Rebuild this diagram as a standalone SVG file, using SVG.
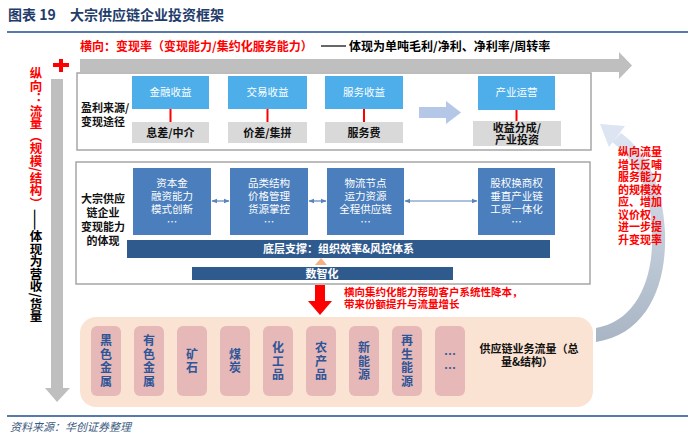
<svg xmlns="http://www.w3.org/2000/svg" width="700" height="440" viewBox="0 0 700 440">
<defs>
<style>
text{font-family:"Noto Sans CJK SC","Liberation Sans",sans-serif}
.title{font-size:14px;font-weight:bold;fill:#1f3d6b}
.red{fill:#ff0000;font-weight:bold}
.blk{fill:#000;font-weight:bold}
.lbl{font-size:11px;font-weight:bold;fill:#111}
.lb{fill:#4daeea}
.gb{fill:#d9d9d9}
.db{fill:#4a7ebd}
.bar{fill:#2f5a8d}
.wt{fill:#fff;font-size:10.5px;text-anchor:middle}
.wtb{fill:#fff;font-size:11px;font-weight:bold;text-anchor:middle}
.gt{fill:#111;font-size:11px;font-weight:bold;text-anchor:middle}
.pk{fill:#e6b9b8}
.pt{fill:#2f5597;font-size:12px;font-weight:bold;text-anchor:middle}
.frame{fill:#fff;stroke:#a6a6a6;stroke-width:1.5}
.rl{stroke:#ff0000;stroke-width:2}
.dbl{stroke:#5b84bd;stroke-width:1.2;marker-start:url(#ah);marker-end:url(#ah)}
</style>
<marker id="ah" viewBox="0 0 10 10" refX="9" refY="5" markerWidth="5" markerHeight="5" orient="auto-start-reverse"><path d="M0,1 L10,5 L0,9 z" fill="#5b84bd"/></marker>
<linearGradient id="cg" x1="0" y1="0" x2="0" y2="1"><stop offset="0" stop-color="#dce5f1"/><stop offset="1" stop-color="#a9b5c4"/></linearGradient>
</defs>
<rect width="700" height="440" fill="#fff"/>
<text class="title" x="8" y="20">图表 19</text>
<text class="title" x="70" y="20">大宗供应链企业投资框架</text>
<line x1="7" y1="32" x2="688" y2="32" stroke="#1f4e8c" stroke-width="1.5"/>

<g id="horizontal-axis">
<text x="80" y="51" class="red" font-size="12">横向：变现率（变现能力/集约化服务能力）</text>
<line x1="321" y1="46" x2="346" y2="46" stroke="#000" stroke-width="1.2"/>
<text x="349" y="51" class="blk" font-size="12">体现为单吨毛利/净利、净利率/周转率</text>
<polygon points="80,59 619,59 619,52 632,65.5 619,79 619,72 80,72" fill="#bfbfbf"/>
</g>

<g id="plus"><rect x="53" y="63" width="16" height="4" fill="#ff0000"/><rect x="59" y="59" width="4" height="13" fill="#ff0000"/></g>

<g id="vertical-axis">
<polygon points="51,79 63,79 63,388 70,388 57,402 45,388 51,388" fill="#bfbfbf"/>
<text x="36" y="67" style="writing-mode:vertical-rl" font-size="12.5"><tspan class="red">纵向：流量（规模/结构）</tspan><tspan class="blk">——体现为营收/货量</tspan></text>
</g>

<g id="row1">
<rect class="frame" x="77" y="73" width="514" height="77"/>
<text class="lbl" x="81" y="112">盈利来源/</text>
<text class="lbl" x="81" y="126">变现途径</text>
</g>
<g id="n-finance"><rect class="lb" x="132" y="76" width="77" height="33"/><text class="wt" x="170.5" y="96">金融收益</text></g>
<g id="n-trade"><rect class="lb" x="228" y="76" width="79" height="33"/><text class="wt" x="267.5" y="96">交易收益</text></g>
<g id="n-service"><rect class="lb" x="325" y="76" width="78" height="33"/><text class="wt" x="364" y="96">服务收益</text></g>
<g id="n-industry"><rect class="lb" x="478" y="76" width="77" height="34"/><text class="wt" x="516.5" y="96">产业运营</text></g>
<g id="n-spread"><rect class="gb" x="132" y="122" width="77" height="21"/><text class="gt" x="170.5" y="136.5">息差/中介</text></g>
<g id="n-price"><rect class="gb" x="228" y="122" width="79" height="21"/><text class="gt" x="267.5" y="136.5">价差/集拼</text></g>
<g id="n-fee"><rect class="gb" x="325" y="122" width="78" height="21"/><text class="gt" x="364" y="136.5">服务费</text></g>
<g id="n-share"><rect class="gb" x="473" y="121" width="88" height="25"/><text class="gt" x="517" y="132">收益分成/</text><text class="gt" x="517" y="144">产业投资</text></g>

<g id="row2">
<rect class="frame" x="76" y="162" width="514" height="122"/>
<text class="lbl" x="103" y="203" text-anchor="middle">大宗供应</text>
<text class="lbl" x="103" y="217" text-anchor="middle">链企业</text>
<text class="lbl" x="103" y="231" text-anchor="middle">变现能力</text>
<text class="lbl" x="103" y="245" text-anchor="middle">的体现</text>
</g>
<g id="n-capital"><rect class="db" x="133" y="168" width="78" height="67"/><text class="wt" x="172" y="187">资本金</text><text class="wt" x="172" y="200">融资能力</text><text class="wt" x="172" y="213">模式创新</text><text class="wt" x="172" y="226">…</text></g>
<g id="n-category"><rect class="db" x="230" y="168" width="78" height="67"/><text class="wt" x="269" y="187">品类结构</text><text class="wt" x="269" y="200">价格管理</text><text class="wt" x="269" y="213">货源掌控</text><text class="wt" x="269" y="226">…</text></g>
<g id="n-logistics"><rect class="db" x="327" y="168" width="77" height="67"/><text class="wt" x="365.5" y="187">物流节点</text><text class="wt" x="365.5" y="200">运力资源</text><text class="wt" x="365.5" y="213">全程供应链</text><text class="wt" x="365.5" y="226">…</text></g>
<g id="n-equity"><rect class="db" x="478" y="168" width="77" height="67"/><text class="wt" x="516.5" y="187">股权换商权</text><text class="wt" x="516.5" y="200">垂直产业链</text><text class="wt" x="516.5" y="213">工贸一体化</text><text class="wt" x="516.5" y="226">…</text></g>
<g id="n-base"><rect class="bar" x="127" y="240" width="423" height="18"/><text class="wtb" x="338.5" y="253">底层支撑：组织效率&amp;风控体系</text></g>
<g id="n-digital"><rect class="bar" x="192" y="267" width="261" height="13"/><text class="wtb" x="322" y="278">数智化</text></g>

<g id="n-flow">
<rect x="80" y="317" width="513" height="90" rx="16" fill="#fbe3d3"/>
<text class="lbl" x="529" y="353" text-anchor="middle" font-size="11.5">供应链业务流量（总</text>
<text class="lbl" x="527" y="366" text-anchor="middle" font-size="11.5">量&amp;结构）</text>
</g>
<g id="n-ferrous"><rect class="pk" x="91" y="326" width="30" height="70" rx="6"/><text class="pt"><tspan x="106" y="345">黑</tspan><tspan x="106" y="358.5">色</tspan><tspan x="106" y="372">金</tspan><tspan x="106" y="385.5">属</tspan></text></g>
<g id="n-nonferrous"><rect class="pk" x="134" y="326" width="30" height="70" rx="6"/><text class="pt"><tspan x="149" y="345">有</tspan><tspan x="149" y="358.5">色</tspan><tspan x="149" y="372">金</tspan><tspan x="149" y="385.5">属</tspan></text></g>
<g id="n-ore"><rect class="pk" x="177" y="326" width="30" height="70" rx="6"/><text class="pt"><tspan x="192" y="358.5">矿</tspan><tspan x="192" y="372">石</tspan></text></g>
<g id="n-coal"><rect class="pk" x="220" y="326" width="30" height="70" rx="6"/><text class="pt"><tspan x="235" y="358.5">煤</tspan><tspan x="235" y="372">炭</tspan></text></g>
<g id="n-chem"><rect class="pk" x="263" y="326" width="30" height="70" rx="6"/><text class="pt"><tspan x="278" y="352">化</tspan><tspan x="278" y="365.5">工</tspan><tspan x="278" y="379">品</tspan></text></g>
<g id="n-agri"><rect class="pk" x="306" y="326" width="30" height="70" rx="6"/><text class="pt"><tspan x="321" y="352">农</tspan><tspan x="321" y="365.5">产</tspan><tspan x="321" y="379">品</tspan></text></g>
<g id="n-newenergy"><rect class="pk" x="349" y="326" width="30" height="70" rx="6"/><text class="pt"><tspan x="364" y="352">新</tspan><tspan x="364" y="365.5">能</tspan><tspan x="364" y="379">源</tspan></text></g>
<g id="n-renew"><rect class="pk" x="392" y="326" width="30" height="70" rx="6"/><text class="pt"><tspan x="407" y="345">再</tspan><tspan x="407" y="358.5">生</tspan><tspan x="407" y="372">能</tspan><tspan x="407" y="385.5">源</tspan></text></g>
<g id="n-more"><rect class="pk" x="435" y="326" width="30" height="70" rx="6"/><text class="pt"><tspan x="450" y="359">…</tspan><tspan x="450" y="373">…</tspan></text></g>

<g id="connectors">
<line class="rl" x1="170.5" y1="109" x2="170.5" y2="122"/>
<line class="rl" x1="267.5" y1="109" x2="267.5" y2="122"/>
<line class="rl" x1="364" y1="109" x2="364" y2="122"/>
<line class="rl" x1="516.5" y1="110" x2="516.5" y2="121"/>
<polygon points="419,107 446,107 446,101 461,112.5 446,124 446,118 419,118" fill="#b4c7e7"/>
<line class="dbl" x1="212" y1="201" x2="229" y2="201"/>
<line class="dbl" x1="309" y1="201" x2="326" y2="201"/>
<line class="dbl" x1="405" y1="201" x2="477" y2="201"/>
<polygon points="315,265 327,265 321,258" fill="#f4b183"/>
<polygon points="315,285 325,285 325,301 332,301 320,315 308,301 315,301" fill="#ff0000"/>
<path d="M596,342 C648,334 667,284 665,232 C663,186 647,152 621,133 L612,142 C636,160 651,191 652,232 C654,280 636,321 596,328 Z" fill="url(#cg)"/>
<polygon points="600,124 625,126 609,147" fill="#dce5f1"/>
</g>

<g id="annotations">
<text class="red" font-size="10.5" x="344" y="296">横向集约化能力帮助客户系统性降本，</text>
<text class="red" font-size="10.5" x="344" y="308">带来份额提升与流量增长</text>
<text class="red" font-size="11" x="618" y="156">纵向流量</text>
<text class="red" font-size="11" x="618" y="168.5">增长反哺</text>
<text class="red" font-size="11" x="618" y="181">服务能力</text>
<text class="red" font-size="11" x="618" y="193.5">的规模效</text>
<text class="red" font-size="11" x="618" y="206">应、增加</text>
<text class="red" font-size="11" x="618" y="218.5">议价权，</text>
<text class="red" font-size="11" x="618" y="231">进一步提</text>
<text class="red" font-size="11" x="618" y="243.5">升变现率</text>
</g>

<line x1="7" y1="416" x2="688" y2="416" stroke="#1f4e8c" stroke-width="1.5"/>
<text x="10" y="431" font-size="11" font-style="italic" fill="#3d5a80">资料来源：华创证券整理</text>
</svg>
